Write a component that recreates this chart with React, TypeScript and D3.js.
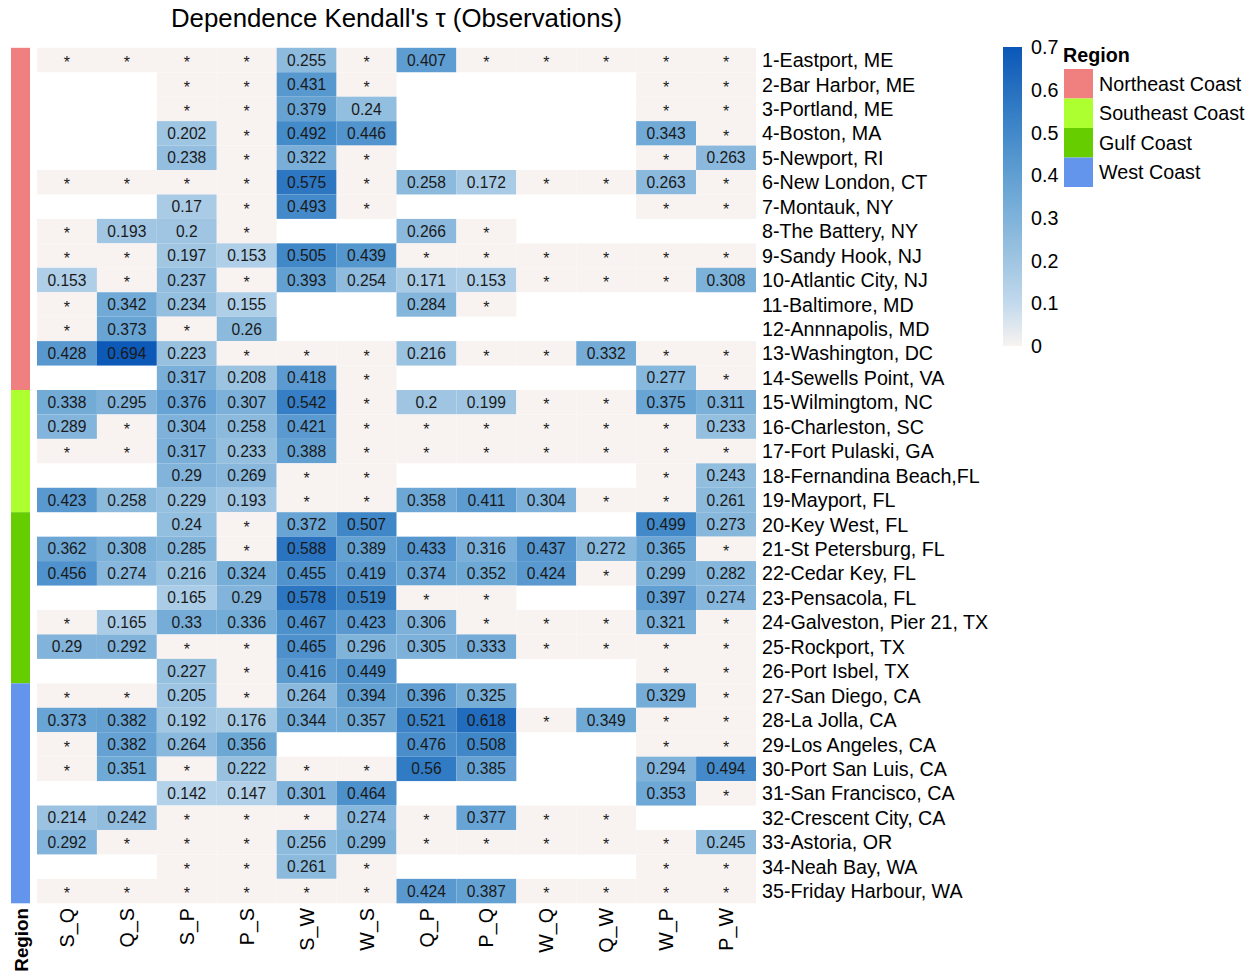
import React from "react";
import * as d3 from "d3";

// column pairs
const pairs = ["S_Q", "Q_S", "S_P", "P_S", "S_W", "W_S", "Q_P", "P_Q", "W_Q", "Q_W", "W_P", "P_W"];

const stations = [
  "1-Eastport, ME", "2-Bar Harbor, ME", "3-Portland, ME", "4-Boston, MA", "5-Newport, RI",
  "6-New London, CT", "7-Montauk, NY", "8-The Battery, NY", "9-Sandy Hook, NJ", "10-Atlantic City, NJ",
  "11-Baltimore, MD", "12-Annnapolis, MD", "13-Washington, DC", "14-Sewells Point, VA",
  "15-Wilmingtom, NC", "16-Charleston, SC", "17-Fort Pulaski, GA", "18-Fernandina Beach,FL", "19-Mayport, FL",
  "20-Key West, FL", "21-St Petersburg, FL", "22-Cedar Key, FL", "23-Pensacola, FL",
  "24-Galveston, Pier 21, TX", "25-Rockport, TX", "26-Port Isbel, TX",
  "27-San Diego, CA", "28-La Jolla, CA", "29-Los Angeles, CA", "30-Port San Luis, CA",
  "31-San Francisco, CA", "32-Crescent City, CA", "33-Astoria, OR", "34-Neah Bay, WA", "35-Friday Harbour, WA",
];

const regionNames = ["Northeast Coast", "Southeast Coast", "Gulf Coast", "West Coast"];
const regionColors = ["#F08080", "#ADFF2F", "#66CD00", "#6495ED"];
const regionCounts = [14, 5, 7, 9];

// "*" = not significant, "-" = no data
const cells = [
  "* * * * 0.255 * 0.407 * * * * *",
  "- - * * 0.431 * - - - - * *",
  "- - * * 0.379 0.24 - - - - * *",
  "- - 0.202 * 0.492 0.446 - - - - 0.343 *",
  "- - 0.238 * 0.322 * - - - - * 0.263",
  "* * * * 0.575 * 0.258 0.172 * * 0.263 *",
  "- - 0.17 * 0.493 * - - - - * *",
  "* 0.193 0.2 * - - 0.266 * - - - -",
  "* * 0.197 0.153 0.505 0.439 * * * * * *",
  "0.153 * 0.237 * 0.393 0.254 0.171 0.153 * * * 0.308",
  "* 0.342 0.234 0.155 - - 0.284 * - - - -",
  "* 0.373 * 0.26 - - - - - - - -",
  "0.428 0.694 0.223 * * * 0.216 * * 0.332 * *",
  "- - 0.317 0.208 0.418 * - - - - 0.277 *",
  "0.338 0.295 0.376 0.307 0.542 * 0.2 0.199 * * 0.375 0.311",
  "0.289 * 0.304 0.258 0.421 * * * * * * 0.233",
  "* * 0.317 0.233 0.388 * * * * * * *",
  "- - 0.29 0.269 * * - - - - * 0.243",
  "0.423 0.258 0.229 0.193 * * 0.358 0.411 0.304 * * 0.261",
  "- - 0.24 * 0.372 0.507 - - - - 0.499 0.273",
  "0.362 0.308 0.285 * 0.588 0.389 0.433 0.316 0.437 0.272 0.365 *",
  "0.456 0.274 0.216 0.324 0.455 0.419 0.374 0.352 0.424 * 0.299 0.282",
  "- - 0.165 0.29 0.578 0.519 * * - - 0.397 0.274",
  "* 0.165 0.33 0.336 0.467 0.423 0.306 * * * 0.321 *",
  "0.29 0.292 * * 0.465 0.296 0.305 0.333 * * * *",
  "- - 0.227 * 0.416 0.449 - - - - * *",
  "* * 0.205 * 0.264 0.394 0.396 0.325 - - 0.329 *",
  "0.373 0.382 0.192 0.176 0.344 0.357 0.521 0.618 * 0.349 * *",
  "* 0.382 0.264 0.356 - - 0.476 0.508 - - * *",
  "* 0.351 * 0.222 * * 0.56 0.385 - - 0.294 0.494",
  "- - 0.142 0.147 0.301 0.464 - - - - 0.353 *",
  "0.214 0.242 * * * 0.274 * 0.377 * * - -",
  "0.292 * * * 0.256 0.299 * * * * * 0.245",
  "- - * * 0.261 * - - - - * *",
  "* * * * * * 0.424 0.387 * * * *",
];

const legendTicks = [0, 0.1, 0.2, 0.3, 0.4, 0.5, 0.6, 0.7];

const font = "'Liberation Sans', Arial, sans-serif";
const labelSize = 19.7;

const color = d3
  .scaleLinear<string>()
  .domain([0, 0.1, 0.2, 0.35, 0.5, 0.7])
  .range(["#F8F3F1", "#C2D9EC", "#9FC5E2", "#6FA9D6", "#4289C9", "#0A57B7"])
  .interpolate(d3.interpolateRgb);

const App: React.FC = () => {
  const width = 1255;
  const height = 976;
  const grid = { left: 37, right: 756, top: 47.8, bottom: 903.3 };

  const x = d3.scaleBand().domain(pairs).range([grid.left, grid.right]);
  const y = d3.scaleBand().domain(stations).range([grid.top, grid.bottom]);

  const rows = cells.map((r) => r.split(" "));

  // region annotation runs
  let acc = 0;
  const regionRuns = regionCounts.map((n, i) => {
    const start = acc;
    acc += n;
    return { name: regionNames[i], color: regionColors[i], start, end: acc };
  });

  const ly = d3.scaleLinear().domain([0, 0.7]).range([346, 47]);
  const gradStops = d3.range(0, 1.0001, 0.05);

  return (
    <svg
      width={width}
      height={height}
      style={{ position: "absolute", left: 0, top: 0, background: "#fff" }}
      fontFamily={font}
    >
      <defs>
        <linearGradient id="cbar" x1="0" y1="1" x2="0" y2="0">
          {gradStops.map((t) => (
            <stop key={t} offset={t} stopColor={color(t * 0.7)} />
          ))}
        </linearGradient>
      </defs>

      {/* Title */}
      <text x={(grid.left + grid.right) / 2} y={27} textAnchor="middle" fontSize={25.8} fill="#000">
        Dependence Kendall's τ (Observations)
      </text>

      {/* Region annotation bar */}
      {regionRuns.map((r) => (
        <rect
          key={r.name}
          x={11}
          width={19}
          y={y(stations[r.start]) as number}
          height={(y(stations[r.end - 1]) as number) + y.bandwidth() - (y(stations[r.start]) as number)}
          fill={r.color}
        />
      ))}

      {/* Cells */}
      {rows.map((row, i) =>
        row.map((v, j) => {
          if (v === "-") return null;
          const val = v === "*" ? 0 : +v;
          const cx = (x(pairs[j]) as number) + x.bandwidth() / 2;
          const cy = (y(stations[i]) as number) + y.bandwidth() / 2;
          return (
            <g key={`${i}-${j}`}>
              <rect
                x={x(pairs[j])}
                y={y(stations[i])}
                width={x.bandwidth()}
                height={y.bandwidth()}
                fill={color(val)}
              />
              <text
                x={cx}
                y={v === "*" ? cy + 2.5 : cy}
                dy="0.36em"
                textAnchor="middle"
                fontSize={v === "*" ? 16 : 15.6}
                fill="#1a1a1a"
              >
                {v}
              </text>
            </g>
          );
        })
      )}

      {/* Row labels */}
      {stations.map((s) => (
        <text
          key={s}
          x={762}
          y={(y(s) as number) + y.bandwidth() / 2}
          dy="0.36em"
          fontSize={labelSize}
          fill="#000"
        >
          {s}
        </text>
      ))}

      {/* Column labels */}
      {pairs.map((p) => {
        const cx = (x(p) as number) + x.bandwidth() / 2;
        return (
          <text
            key={p}
            transform={`translate(${cx},908) rotate(-90)`}
            dy="0.36em"
            textAnchor="end"
            fontSize={labelSize}
            fill="#000"
          >
            {p}
          </text>
        );
      })}
      <text
        transform={`translate(21,908) rotate(-90)`}
        dy="0.36em"
        textAnchor="end"
        fontSize={18.8}
        fontWeight="bold"
        fill="#000"
      >
        Region
      </text>

      {/* Colour bar legend */}
      <rect x={1003} y={ly(0.7)} width={19} height={ly(0) - ly(0.7)} fill="url(#cbar)" />
      {legendTicks.map((t) => (
        <text key={t} x={1031} y={ly(t)} dy="0.36em" fontSize={labelSize} fill="#000">
          {t === 0 ? "0" : t.toFixed(1)}
        </text>
      ))}

      {/* Region legend */}
      <text x={1063} y={62} fontSize={labelSize} fontWeight="bold" fill="#000">
        Region
      </text>
      {regionNames.map((n, i) => (
        <g key={n}>
          <rect x={1064} y={69 + i * 29.5} width={29} height={29.5} fill={regionColors[i]} />
          <text x={1099} y={69 + i * 29.5 + 14.75} dy="0.36em" fontSize={labelSize} fill="#000">
            {n}
          </text>
        </g>
      ))}
    </svg>
  );
};

export default App;
